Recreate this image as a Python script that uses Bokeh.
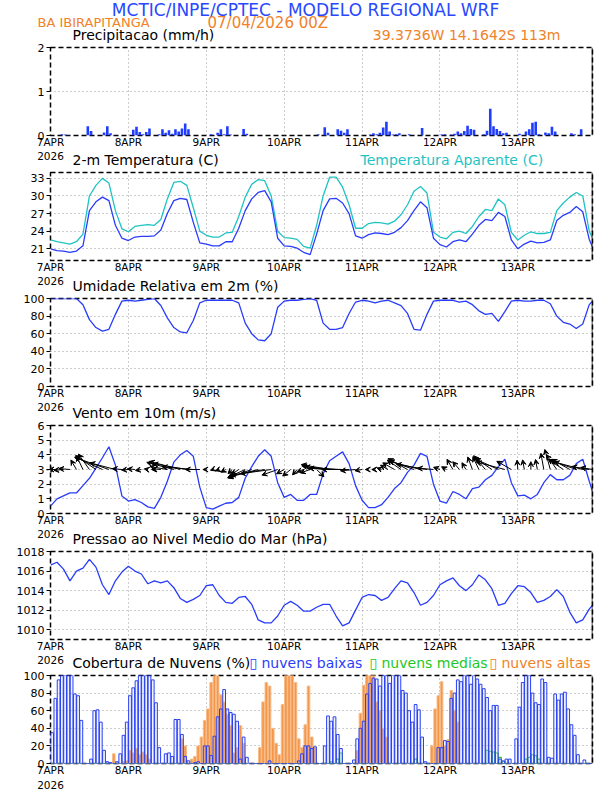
import math
from bokeh.plotting import figure
from bokeh.models import ColumnDataSource, FixedTicker, Arrow, VeeHead, Range1d, Span
from bokeh.layouts import column
from bokeh.embed import file_html
from bokeh.resources import INLINE
from bokeh.core.properties import value

# ---------------- data ----------------
day_ticks = [0, 24, 48, 72, 96, 120, 144]
day_labels = ["7APR", "8APR", "9APR", "10APR", "11APR", "12APR", "13APR"]
year_label = "2026"

bar_hours = list(range(167))                      # hourly bars (h0 .. h166)
line_hours = list(range(0, 167, 2)) + [167]       # 2-hourly line samples

precip = [
    0, 0, 0, 0.03, 0.02, 0.01, 0, 0, 0, 0, 0, 0.21, 0.10, 0, 0, 0, 0.07, 0.21, 0.05, 0.01, 0, 0, 0, 0,
    0, 0.13, 0.20, 0.08, 0.03, 0.08, 0.16, 0, 0, 0.03, 0.14, 0.06, 0.12, 0.04, 0.14, 0.09, 0.16, 0.27, 0.14, 0, 0, 0, 0, 0,
    0, 0.03, 0, 0.06, 0.14, 0.03, 0.21, 0.02, 0, 0, 0, 0.15, 0.04, 0, 0, 0, 0, 0, 0, 0, 0, 0, 0, 0,
    0, 0, 0, 0, 0, 0, 0, 0, 0, 0, 0.03, 0, 0.19, 0.06, 0, 0, 0.14, 0.11, 0.06, 0.14, 0, 0, 0, 0,
    0, 0, 0.02, 0.05, 0.03, 0.06, 0.18, 0.31, 0.09, 0.02, 0.03, 0.05, 0, 0, 0.03, 0, 0, 0, 0.17, 0, 0, 0, 0, 0,
    0.02, 0.03, 0, 0.02, 0.04, 0.09, 0.05, 0.10, 0.22, 0.15, 0.13, 0, 0, 0.03, 0.11, 0.61, 0.21, 0.15, 0.10, 0.05, 0.06, 0, 0, 0,
    0.04, 0, 0.09, 0.14, 0.29, 0.31, 0.03, 0, 0.07, 0.05, 0.20, 0.09, 0, 0, 0, 0, 0.05, 0.03, 0, 0.14, 0, 0, 0,
]

temp = [
    21.0, 20.7, 20.6, 20.4, 20.6, 21.5, 27.5, 29.0, 29.8, 29.2, 25.0, 22.8,
    22.4, 23.0, 23.1, 23.1, 23.2, 24.2, 27.0, 29.2, 29.6, 29.4, 25.5, 22.0,
    21.8, 21.5, 21.5, 22.2, 22.2, 24.5, 27.5, 29.5, 30.6, 30.9, 29.0, 22.8,
    21.5, 21.4, 21.1, 20.4, 20.0, 23.5, 27.5, 29.5, 29.6, 28.8, 27.0, 23.2,
    22.8, 23.4, 23.7, 23.6, 23.4, 23.8, 24.6, 25.8, 27.5, 29.0, 28.0, 22.8,
    21.7, 21.3, 22.2, 22.5, 22.2, 23.5, 25.0, 26.0, 25.8, 27.2, 26.5, 22.5,
    21.0, 21.8, 22.3, 22.0, 22.1, 22.5, 25.8, 26.7, 27.2, 28.2, 27.3, 22.6, 21.3,
]

temp_apparent = [
    22.5, 22.2, 22.0, 21.8, 22.2, 23.5, 30.0, 31.8, 33.0, 32.2, 27.5, 24.4,
    23.9, 24.8, 25.0, 25.1, 25.0, 26.0, 29.5, 32.3, 32.5, 31.8, 28.0, 24.0,
    23.3, 23.0, 23.0, 23.7, 23.8, 26.5, 29.8, 32.0, 32.8, 32.6, 30.0, 24.0,
    22.9, 22.8, 22.6, 21.4, 21.1, 25.0, 30.0, 33.2, 33.2, 31.5, 28.5, 24.5,
    24.5, 25.3, 25.5, 25.4, 25.2, 25.7, 26.8, 28.5, 30.8, 31.6, 30.5, 23.8,
    23.0, 22.7, 23.8, 24.0, 23.6, 24.8, 26.5, 27.7, 27.5, 29.5, 28.5, 23.8,
    22.5, 23.3, 23.9, 23.6, 23.6, 23.8, 27.5, 28.8, 29.8, 30.6, 30.0, 24.0, 22.8,
]

rh = [
    100, 100, 100, 100, 100, 93, 76, 67, 63, 65, 82, 97,
    98, 97, 98, 99, 100, 92, 78, 67, 62, 61, 75, 95,
    98, 98, 98, 98, 98, 95, 72, 60, 53, 52, 60, 90,
    97, 98, 98, 99, 100, 98, 72, 65, 65, 67, 83, 96,
    98, 97, 95, 97, 98, 95, 92, 83, 65, 64, 82, 97,
    98, 98, 98, 96, 97, 93, 86, 82, 83, 74, 85, 97,
    98, 97, 97, 98, 98, 94, 80, 73, 71, 66, 71, 93, 97,
]

wind_speed = [
    0.5, 1.0, 1.2, 1.4, 1.4, 1.9, 2.4, 3.1, 3.8, 4.55, 3.3, 1.2,
    0.85, 0.95, 0.75, 0.45, 0.35, 1.1, 2.2, 3.5, 4.0, 4.3, 3.9, 1.8,
    0.4, 0.3, 0.5, 0.7, 0.75, 1.1, 2.4, 3.2, 3.9, 4.35, 3.9, 2.1,
    1.1, 1.3, 0.9, 0.9, 1.3, 1.3, 2.7, 3.6, 3.9, 4.2, 3.4, 1.9,
    0.9, 0.4, 0.4, 0.6, 1.1, 1.7, 2.1, 2.8, 3.3, 4.1, 3.9, 2.0,
    0.85, 0.7, 1.5, 1.3, 1.0, 1.7, 1.8, 2.3, 2.6, 3.2, 3.7, 2.1,
    1.2, 1.25, 1.0, 1.3, 2.1, 2.65, 2.3, 2.3, 2.6, 3.4, 3.7, 2.2, 1.5,
]

# direction each wind arrow points (degrees counter-clockwise from east)
wind_dir = [
    185, 180, 185, 175, 120, 115, 125, 145, 155, 160, 165, 175,
    185, 175, 190, 170, 180, 175, 170, 165, 165, 170, 175, 180,
    180, 200, 200, 210, 225, 215, 205, 200, 195, 190, 188, 200,
    210, 220, 230, 200, 200, 315, 170, 170, 175, 178, 180, 185,
    190, 180, 180, 160, 150, 150, 145, 150, 160, 165, 170, 175,
    160, 150, 120, 130, 120, 110, 115, 130, 145, 155, 165, 150,
    95, 100, 90, 100, 100, 105, 125, 145, 150, 160, 165, 170, 170,
]

pressure = [
    1016.6, 1016.9, 1016.2, 1015.0, 1016.0, 1016.3, 1017.2, 1016.4, 1014.6, 1013.6, 1015.0, 1015.9,
    1016.5, 1016.0, 1015.7, 1014.7, 1015.0, 1014.8, 1015.0, 1014.3, 1013.2, 1012.8, 1013.1, 1013.5,
    1014.5, 1014.6, 1013.5, 1012.8, 1012.7, 1013.3, 1013.4, 1012.6, 1011.0, 1010.7, 1010.7, 1011.4,
    1012.5, 1012.9, 1012.5, 1011.9, 1011.9, 1012.3, 1012.6, 1012.6, 1011.4, 1010.4, 1010.7, 1012.0,
    1013.3, 1013.6, 1013.5, 1013.0, 1013.3, 1014.2, 1015.0, 1014.8, 1013.8, 1012.5, 1012.8, 1013.5,
    1014.6, 1015.0, 1015.3, 1014.5, 1014.0, 1014.6, 1015.6, 1015.1, 1014.2, 1012.5, 1012.7, 1013.7,
    1014.5, 1014.4, 1013.8, 1012.8, 1013.0, 1013.4, 1014.1, 1013.4, 1011.8, 1010.7, 1011.0, 1012.1, 1012.5,
]

cloud_low = [
    35, 74, 95, 100, 100, 100, 100, 79, 77, 49, 0, 0, 5, 60, 61, 47, 15, 2, 1, 0, 2, 11, 32, 47,
    77, 86, 94, 100, 100, 100, 100, 95, 69, 18, 0, 11, 12, 8, 50, 50, 33, 8, 3, 0, 1, 2, 0, 20,
    20, 9, 31, 53, 62, 84, 62, 58, 56, 48, 5, 30, 7, 0, 0, 0, 0, 0, 0, 3, 0, 0, 0, 0,
    0, 0, 0, 0, 3, 11, 20, 20, 17, 19, 0, 0, 20, 54, 48, 53, 33, 17, 0, 0, 0, 4, 28, 40,
    48, 79, 91, 97, 96, 88, 100, 100, 91, 100, 100, 100, 83, 80, 60, 47, 67, 61, 30, 2, 0, 0, 0, 18,
    18, 26, 25, 74, 80, 95, 93, 100, 100, 90, 100, 96, 90, 85, 75, 60, 66, 66, 5, 3, 5, 5, 0, 28,
    64, 92, 100, 100, 80, 69, 67, 96, 92, 7, 6, 79, 72, 79, 81, 62, 44, 32, 10, 0, 4, 0, 0,
]

cloud_mid = [
    0, 0, 0, 0, 0, 0, 0, 0, 0, 0, 0, 0, 0, 0, 0, 0, 0, 0, 0, 0, 0, 0, 0, 0,
    0, 0, 0, 0, 0, 0, 0, 0, 0, 0, 0, 0, 0, 0, 0, 0, 0, 0, 0, 0, 0, 0, 0, 0,
    0, 0, 0, 0, 0, 0, 0, 0, 0, 0, 0, 0, 0, 0, 0, 0, 0, 0, 0, 0, 0, 0, 0, 0,
    0, 0, 0, 0, 0, 0, 0, 0, 0, 0, 0, 0, 0, 0, 2, 0, 5, 12, 0, 0, 0, 0, 0, 0,
    0, 0, 0, 0, 0, 0, 0, 0, 0, 0, 0, 0, 0, 0, 0, 0, 5, 0, 0, 0, 0, 0, 0, 0,
    0, 0, 0, 0, 0, 0, 0, 0, 0, 0, 0, 0, 0, 0, 15, 14, 13, 12, 7, 2, 0, 0, 0, 0,
    0, 0, 5, 7, 10, 9, 5, 0, 0, 0, 0, 0, 0, 0, 0, 0, 0, 0, 0, 0, 0, 0, 0,
]

cloud_high = [
    0, 0, 0, 0, 0, 0, 0, 0, 0, 0, 0, 0, 0, 0, 0, 0, 0, 0, 0, 11, 0, 0, 2, 3,
    15, 12, 17, 10, 13, 10, 5, 0, 0, 0, 0, 0, 0, 0, 0, 0, 28, 20, 0, 5, 8, 20, 30, 49,
    62, 92, 100, 100, 78, 70, 56, 43, 12, 18, 43, 23, 0, 0, 0, 0, 18, 70, 92, 88, 40, 23, 10, 67,
    100, 100, 100, 92, 28, 18, 44, 88, 30, 18, 0, 0, 0, 0, 0, 0, 0, 0, 0, 0, 0, 0, 15, 57,
    89, 100, 100, 100, 70, 60, 40, 30, 0, 0, 0, 0, 0, 0, 0, 0, 0, 0, 0, 0, 0, 20, 62, 77,
    93, 20, 27, 83, 60, 47, 0, 0, 0, 0, 0, 0, 0, 0, 0, 0, 0, 0, 0, 0, 0, 0, 0, 0,
    0, 0, 0, 0, 0, 0, 0, 0, 0, 0, 0, 0, 0, 0, 0, 0, 0, 0, 0, 0, 0, 0, 0,
]

for arr in (precip, cloud_low, cloud_mid, cloud_high):
    assert len(arr) == len(bar_hours), len(arr)
for arr in (temp, temp_apparent, rh, wind_speed, wind_dir, pressure):
    assert len(arr) == len(line_hours), len(arr)

# ---------------- styling / layout ----------------
X0, X1 = 0, 167
FRAME_W, FRAME_H = 542, 90
LEFT, RIGHT = 50, 12
FIG_W = LEFT + FRAME_W + RIGHT
TOP_B, BOT_B = 4, 13
PANEL_H = TOP_B + FRAME_H + BOT_B
FRAME_TOPS = [47, 172, 298, 425, 551, 675]      # page y of each panel frame
PAGE_H = 791
FONT = "DejaVu Sans"
BLUE = "#283cfa"
CYAN = "#1ec3c3"
ORANGE = "#f0822a"
GREEN = "#1ec81e"
TITLE_BLUE = "#2848ff"
GRID = "#9a9a9a"


def panel(y0, y1, yticks):
    p = figure(width=FIG_W, height=PANEL_H, x_range=Range1d(X0, X1), y_range=Range1d(y0, y1),
               output_backend="svg", toolbar_location=None,
               min_border_left=LEFT, min_border_right=RIGHT,
               min_border_top=TOP_B, min_border_bottom=BOT_B)
    p.outline_line_color = "black"
    p.outline_line_width = 1.5
    p.outline_line_dash = "5 3"
    p.background_fill_color = "white"
    p.border_fill_color = "white"
    xa = p.xaxis[0]
    xa.ticker = FixedTicker(ticks=day_ticks)
    xa.major_label_overrides = {t: l for t, l in zip(day_ticks, day_labels)}
    xa.axis_line_color = None
    xa.major_tick_line_color = None
    xa.major_tick_out = 0
    xa.major_tick_in = 0
    xa.minor_tick_line_color = None
    xa.minor_tick_out = 0
    xa.major_label_standoff = 0
    xa.major_label_text_font = FONT
    xa.major_label_text_font_size = "10.5px"
    xa.major_label_text_color = "black"
    ya = p.yaxis[0]
    ya.ticker = FixedTicker(ticks=yticks)
    ya.axis_line_color = None
    ya.major_tick_out = 4
    ya.major_tick_in = 0
    ya.major_tick_line_color = "black"
    ya.minor_tick_line_color = None
    ya.major_label_standoff = 2
    ya.major_label_text_font = FONT
    ya.major_label_text_font_size = "11px"
    ya.major_label_text_color = "black"
    for g in (p.xgrid[0], p.ygrid[0]):
        g.grid_line_color = GRID
        g.grid_line_dash = "1 3"
        g.grid_line_width = 1
    p.add_layout(Span(location=X1, dimension="height", line_color="black", line_width=1.5))
    return p


def strip(height, items):
    s = figure(width=FIG_W, height=height, x_range=Range1d(0, FIG_W), y_range=Range1d(height, 0),
               x_axis_type=None, y_axis_type=None, output_backend="svg", toolbar_location=None,
               min_border_left=0, min_border_right=0, min_border_top=0, min_border_bottom=0)
    s.outline_line_color = None
    s.background_fill_color = "white"
    s.border_fill_color = "white"
    for (x, y, t, color, size, align) in items:
        s.text(x=[x], y=[y], text=[t], text_color=color, text_font=value(FONT),
               text_font_size=value(f"{size}px"), text_align=align, text_baseline="middle")
    return s


def gap_strip(prev_top, next_top, extra):
    h = next_top - prev_top - PANEL_H
    items = [(LEFT, 5, year_label, "black", 10.5, "center")]
    for (x, t, color) in extra:
        items.append((x, h - 9, t, color, 14, "left"))
    return strip(h, items)


bar_x = [h + 0.5 for h in bar_hours]

# header
H0 = FRAME_TOPS[0] - TOP_B
header = strip(H0, [
    (305, 9, "MCTIC/INPE/CPTEC - MODELO REGIONAL WRF", TITLE_BLUE, 17, "center"),
    (37, 22, "BA IBIRAPITANGA", ORANGE, 13, "left"),
    (207, 22, "07/04/2026 00Z", ORANGE, 15, "left"),
    (72, H0 - 9, "Precipitacao (mm/h)", "black", 14, "left"),
    (560, H0 - 9, "39.3736W 14.1642S 113m", ORANGE, 14, "right"),
])

# Panel 1: precipitation
p1 = panel(0, 2, [0, 1, 2])
p1.vbar(x=bar_x, top=precip, width=0.8, fill_color="#1f3dff", line_color=None)

# Panel 2: temperature
s2 = gap_strip(FRAME_TOPS[0], FRAME_TOPS[1],
               [(72, "2-m Temperatura (C)", "black"), (360, "Temperatura Aparente (C)", CYAN)])
p2 = panel(19, 34, [21, 24, 27, 30, 33])
p2.line(line_hours, temp_apparent, line_color=CYAN, line_width=1.3)
p2.line(line_hours, temp, line_color=BLUE, line_width=1.3)

# Panel 3: relative humidity
s3 = gap_strip(FRAME_TOPS[1], FRAME_TOPS[2], [(72, "Umidade Relativa em 2m (%)", "black")])
p3 = panel(0, 100, [0, 20, 40, 60, 80, 100])
p3.line(line_hours, rh, line_color=BLUE, line_width=1.3)

# Panel 4: wind
s4 = gap_strip(FRAME_TOPS[2], FRAME_TOPS[3], [(72, "Vento em 10m (m/s)", "black")])
p4 = panel(0, 6, [0, 1, 2, 3, 4, 5, 6])
K = 8.0  # arrow length, px per m/s
pxh = FRAME_W / (X1 - X0)
pxu = FRAME_H / 6.0
xs, ys, xe, ye = [], [], [], []
for t, s, d in zip(line_hours, wind_speed, wind_dir):
    L = s * K
    xs.append(t)
    ys.append(3.0)
    xe.append(t + L * math.cos(math.radians(d)) / pxh)
    ye.append(3.0 + L * math.sin(math.radians(d)) / pxu)
asrc = ColumnDataSource(dict(xs=xs, ys=ys, xe=xe, ye=ye))
p4.add_layout(Arrow(end=VeeHead(size=5, fill_color="black", line_color="black", line_width=1),
                    x_start="xs", y_start="ys", x_end="xe", y_end="ye", source=asrc,
                    line_color="black", line_width=1))
p4.line(line_hours, wind_speed, line_color=BLUE, line_width=1.3)

# Panel 5: pressure
s5 = gap_strip(FRAME_TOPS[3], FRAME_TOPS[4], [(72, "Pressao ao Nivel Medio do Mar (hPa)", "black")])
p5 = panel(1009, 1018, [1010, 1012, 1014, 1016, 1018])
p5.line(line_hours, pressure, line_color=BLUE, line_width=1.3)

# Panel 6: clouds
s6 = gap_strip(FRAME_TOPS[4], FRAME_TOPS[5], [
    (72, "Cobertura de Nuvens (%)", "black"),
    (249, "\u25af", BLUE), (261, "nuvens baixas", BLUE),
    (369, "\u25af", GREEN), (381, "nuvens medias", GREEN),
    (489, "\u25af", ORANGE), (501, "nuvens altas", ORANGE),
])
p6 = panel(0, 100, [0, 20, 40, 60, 80, 100])
p6.vbar(x=bar_x, top=cloud_high, width=0.8, fill_color="#f4964a", line_color="#f8bc88", line_width=1)
p6.vbar(x=bar_x, top=cloud_mid, width=0.8, fill_color=None, line_color=GREEN, line_width=1.1)
p6.vbar(x=bar_x, top=cloud_low, width=0.85, fill_color="#c8d4ff", fill_alpha=0.25,
        line_color="#2a40f0", line_width=1.0)

FOOT_H = PAGE_H - (FRAME_TOPS[5] + FRAME_H + BOT_B)
footer = strip(FOOT_H, [(LEFT, 6, year_label, "black", 10.5, "center")])

# each child wrapped in its own column so that plot frames are not aligned across strips
children = [header, p1, s2, p2, s3, p3, s4, p4, s5, p5, s6, p6, footer]
layout = column([column(c, spacing=0) for c in children], spacing=0)
open("out.html", "w").write(file_html(layout, INLINE))
